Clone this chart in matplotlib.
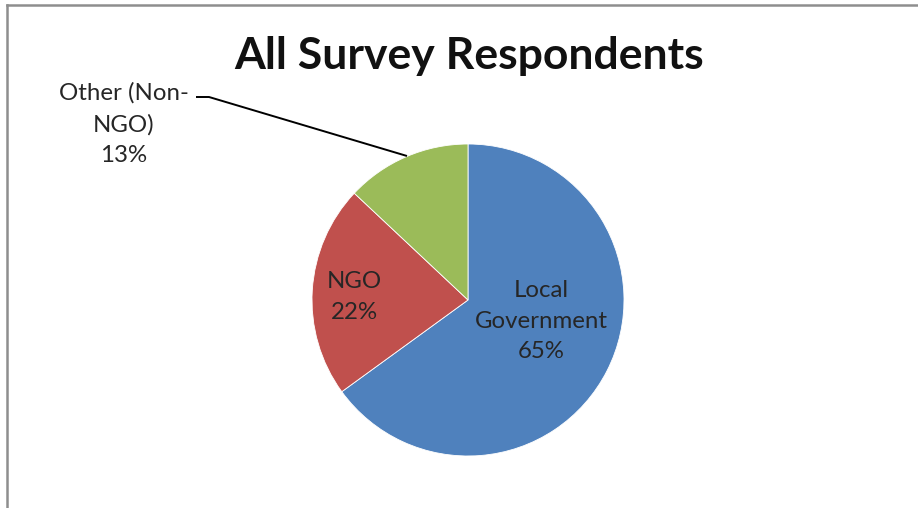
import matplotlib.pyplot as plt
from matplotlib.lines import Line2D

labels = ["Local\nGovernment\n65%", "NGO\n22%", "Other (Non-\nNGO)\n13%"]
shares = [65, 22, 13]
colors = ["#4f81bd", "#c0504d", "#9bbb59"]

W, H = 918, 508
fig = plt.figure(figsize=(W / 100, H / 100), dpi=100)
ax = fig.add_axes([0, 0, 1, 1])

# pie in pixel coords (y flipped)
cx, cy, r = 468, H - 300, 156
ax.pie(shares, colors=colors, startangle=90, counterclock=False,
       center=(cx, cy), radius=r, frame=True,
       wedgeprops=dict(linewidth=0.6, edgecolor="white"))
ax.set_xlim(0, W)
ax.set_ylim(0, H)
ax.set_aspect("equal")
ax.axis("off")

font = "Lato"
tc = "#262626"
ax.text(469, H - 56, "All Survey Respondents", ha="center", va="center",
        fontsize=32, fontweight="bold", family=font, color="#111111")

ax.text(541, H - 321, labels[0], ha="center", va="center", fontsize=17.3,
        family=font, color=tc, linespacing=1.58)
ax.text(354, H - 297, labels[1], ha="center", va="center", fontsize=17.3,
        family=font, color=tc, linespacing=1.58)
ax.text(124, H - 124, labels[2], ha="center", va="center", fontsize=17.3,
        family=font, color=tc, linespacing=1.58)

# leader line for the small slice
ax.plot([196, 209, 407], [H - 97, H - 97, H - 156], color="black", lw=1.4,
        solid_capstyle="butt")

# chart border (left and top edges)
fig.add_artist(Line2D([7 / W, 7 / W], [0, 1 - 5 / H], color="#8e8e8e", lw=1.8,
                      transform=fig.transFigure))
fig.add_artist(Line2D([7 / W, 1], [1 - 5 / H, 1 - 5 / H], color="#8e8e8e", lw=1.8,
                      transform=fig.transFigure))

fig.savefig("out.png", dpi=100, facecolor="white")
